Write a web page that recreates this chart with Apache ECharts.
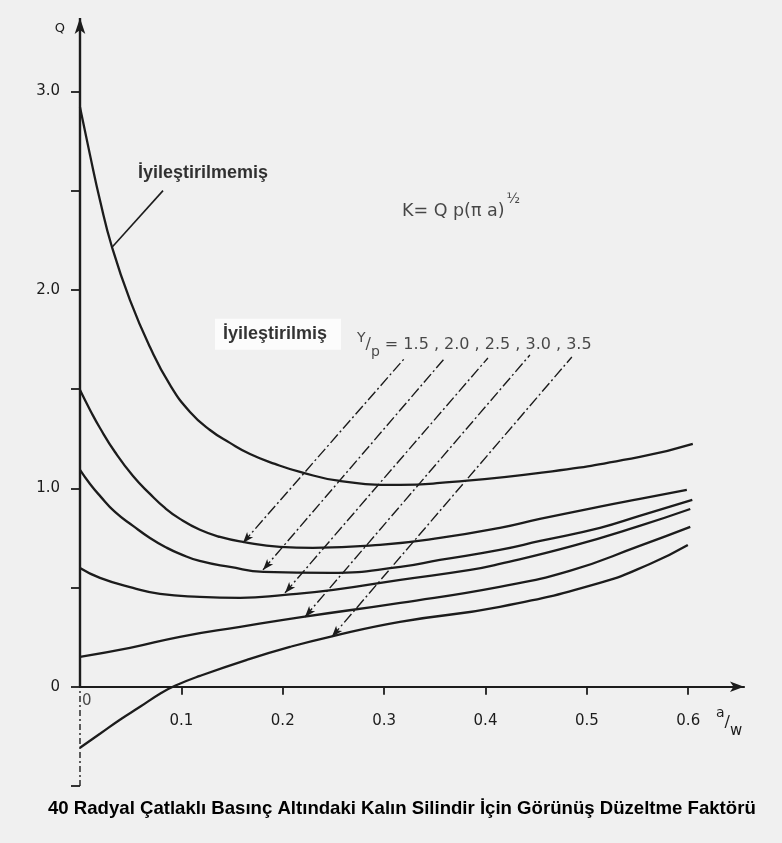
<!DOCTYPE html>
<html>
<head>
<meta charset="utf-8">
<script src="https://cdn.jsdelivr.net/npm/echarts@6/dist/echarts.min.js"></script>
<style>
html,body{margin:0;padding:0;background:#f0f0f0;}
#chart{width:782px;height:843px;}
</style>
</head>
<body>
<div id="chart"></div>
<script>
// ---- data ----
const xTickValues = [0.1, 0.2, 0.3, 0.4, 0.5, 0.6];
const xTickLabels = ['0.1', '0.2', '0.3', '0.4', '0.5', '0.6'];
const yTickValues = [-0.5, 0, 0.5, 1.0, 1.5, 2.0, 2.5, 3.0];
const yLabelValues = [0, 1, 2, 3];
const yLabelTexts = ['0', '1.0', '2.0', '3.0'];

const curveUntreated = [[0,2.920],[0.0099,2.679],[0.0197,2.452],[0.0316,2.215],[0.0493,1.948],[0.0690,1.712],[0.0888,1.521],[0.1085,1.385],[0.1282,1.294],[0.1479,1.229],[0.1677,1.173],[0.1923,1.123],[0.2170,1.083],[0.2564,1.037],[0.3156,1.017],[0.3550,1.027],[0.4536,1.078],[0.5523,1.158],[0.6045,1.224]];
const curveYp15 = [[0,1.495],[0.0099,1.395],[0.0197,1.304],[0.0345,1.183],[0.0523,1.062],[0.0690,0.972],[0.0838,0.901],[0.0986,0.846],[0.1183,0.791],[0.1381,0.755],[0.1607,0.730],[0.1972,0.705],[0.2298,0.700],[0.2959,0.715],[0.3550,0.750],[0.4142,0.801],[0.4536,0.846],[0.5128,0.908],[0.5523,0.947],[0.5986,0.992]];
const curveYp20 = [[0,1.093],[0.0099,1.022],[0.0197,0.962],[0.0345,0.881],[0.0523,0.811],[0.069,0.750],[0.0858,0.700],[0.0986,0.670],[0.118,0.634],[0.148,0.604],[0.181,0.579],[0.247,0.574],[0.316,0.604],[0.355,0.639],[0.414,0.690],[0.454,0.735],[0.513,0.801],[0.552,0.861],[0.604,0.942]];
const curveYp25 = [[0,0.599],[0.0197,0.549],[0.0523,0.498],[0.0789,0.468],[0.118,0.453],[0.158,0.448],[0.202,0.463],[0.250,0.488],[0.316,0.539],[0.385,0.589],[0.414,0.619],[0.486,0.710],[0.552,0.811],[0.602,0.896]];
const curveYp30 = [[0,0.151],[0.0493,0.196],[0.0986,0.252],[0.158,0.302],[0.220,0.352],[0.316,0.423],[0.414,0.504],[0.483,0.584],[0.552,0.710],[0.602,0.806]];
const curveYp35 = [[0,-0.307],[0.0197,-0.237],[0.0394,-0.166],[0.0592,-0.101],[0.0789,-0.035],[0.0937,0.005],[0.1183,0.055],[0.1647,0.136],[0.2071,0.201],[0.2465,0.252],[0.3156,0.327],[0.4142,0.403],[0.5128,0.524],[0.5621,0.619],[0.5996,0.715]];

const ypValues = ['1.5', '2.0', '2.5', '3.0', '3.5'];
// guide lines: [bottom point on curve (arrow), top point near label]
const ypGuideBottom = [[0.1607,0.725],[0.1805,0.589],[0.2022,0.473],[0.2219,0.352],[0.2485,0.252]];
const ypGuideTop = [[0.3205,1.657],[0.360,1.657],[0.4024,1.657],[0.4438,1.672],[0.4852,1.662]];

const leaderLine = [[0.0819,2.50],[0.0316,2.215]];
const yAxisTop = 3.37;
const yAxisBottom = -0.5;
const xAxisEnd = 0.655;

const labelUntreated = 'İyileştirilmemiş';
const labelTreated = 'İyileştirilmiş';
const formulaText = 'K= Q p(π a)';
const formulaExp = '½';
const chartTitle = '40 Radyal Çatlaklı Basınç Altındaki Kalın Silindir İçin Görünüş Düzeltme Faktörü';

// ---- chart ----
const chart = echarts.init(document.getElementById('chart'));
const ink = '#1c1c1c';
const tickFont = 'DejaVu Sans';
const gridTop = 18, gridBottom = 57, chartH = 843;
const gridH = chartH - gridTop - gridBottom;
// place x axis at y = 0
const xAxisOffset = -((0 - yAxisBottom) / (yAxisTop - yAxisBottom)) * gridH;

const curveStyle = {color: ink, width: 2.3};
function curveSeries(name, data) {
  return {
    name: name, type: 'line', data: data, smooth: 0.5,
    symbol: 'none', lineStyle: curveStyle, silent: true, z: 3
  };
}

const series = [
  curveSeries('İyileştirilmemiş', curveUntreated),
  curveSeries('Y/p=1.5', curveYp15),
  curveSeries('Y/p=2.0', curveYp20),
  curveSeries('Y/p=2.5', curveYp25),
  curveSeries('Y/p=3.0', curveYp30),
  curveSeries('Y/p=3.5', curveYp35)
];

ypValues.forEach(function (v, i) {
  series.push({
    name: 'guide ' + v, type: 'line', symbol: 'none', showSymbol: true, silent: true, z: 2,
    lineStyle: {color: ink, width: 1.4, type: [11, 3, 2, 3]},
    data: [
      {value: ypGuideBottom[i], symbol: 'arrow', symbolSize: [6, 11], symbolRotate: 139,
       itemStyle: {color: ink}},
      {value: ypGuideTop[i], symbol: 'none'}
    ]
  });
});

// leader line for the untreated label
series.push({
  name: 'leader', type: 'line', symbol: 'none', silent: true,
  lineStyle: {color: ink, width: 1.6}, data: leaderLine
});

// y axis drawn as two segments: solid above zero, dashed below
series.push({
  name: 'yAxisPos', type: 'line', silent: true, z: 4, showSymbol: true, symbol: 'none',
  lineStyle: {color: ink, width: 2.4},
  data: [[0, 0], {value: [0, yAxisTop], symbol: 'arrow', symbolSize: [8, 16], itemStyle: {color: ink}}]
});
series.push({
  name: 'yAxisNeg', type: 'line', silent: true, symbol: 'none',
  lineStyle: {color: ink, width: 1.4, type: [6, 3, 2, 3]},
  data: [[0, yAxisBottom], [0, 0]]
});

// annotations
series.push({
  name: 'annotations', type: 'scatter', symbolSize: 0, silent: true, clip: false, z: 6,
  data: [
    {value: [0.0572, 2.588], label: {show: true, position: 'right', distance: 0, formatter: labelUntreated,
      fontFamily: 'Liberation Sans', fontWeight: 'bold', fontSize: 18, color: '#000'}},
    {value: [0.1331, 1.777], label: {show: true, position: 'right', distance: 0, formatter: labelTreated,
      fontFamily: 'Liberation Sans', fontWeight: 'bold', fontSize: 18, color: '#000',
      backgroundColor: '#ffffff', padding: [6, 14, 7, 8]}},
    {value: [0.2732, 1.722], label: {show: true, position: 'right', distance: 0,
      formatter: '{y|Y}{s|/}{p|p}{e| = ' + ypValues.join(' , ') + '}',
      rich: {
        y: {fontFamily: tickFont, fontSize: 14, color: ink, verticalAlign: 'top', lineHeight: 28},
        s: {fontFamily: tickFont, fontSize: 16, color: ink, lineHeight: 28},
        p: {fontFamily: tickFont, fontSize: 14, color: ink, verticalAlign: 'bottom', lineHeight: 28},
        e: {fontFamily: tickFont, fontSize: 16, color: ink, lineHeight: 28}
      }}},
    {value: [0.3176, 2.432], label: {show: true, position: 'right', distance: 0,
      formatter: '{m|' + formulaText + '}{s|' + formulaExp + '}',
      rich: {
        m: {fontFamily: tickFont, fontSize: 17.5, color: ink, verticalAlign: 'bottom', lineHeight: 32},
        s: {fontFamily: tickFont, fontSize: 14, color: ink, verticalAlign: 'top', lineHeight: 32, padding: [4, 0, 0, 2]}
      }}},
    {value: [0, 0], label: {show: true, position: 'right', distance: 2, offset: [0, 14], formatter: '0',
      fontFamily: tickFont, fontSize: 15, color: ink}}
  ]
});

chart.setOption({
  animation: false,
  backgroundColor: '#f0f0f0',
  title: {
    text: chartTitle, left: 43, top: 794,
    textStyle: {fontFamily: 'Liberation Sans', fontWeight: 'bold', fontSize: 18.6, color: '#000'}
  },
  grid: {left: 80, right: 38, top: gridTop, bottom: gridBottom, containLabel: false, outerBoundsMode: 'none'},
  xAxis: {
    type: 'value', min: 0, max: xAxisEnd, position: 'bottom', offset: xAxisOffset,
    name: '{a|a}{s|/}{w|w}', nameLocation: 'end', nameGap: -28,
    nameTextStyle: {
      align: 'left', verticalAlign: 'top', padding: [20, 0, 0, 0],
      rich: {
        a: {fontFamily: tickFont, fontSize: 14, color: ink, verticalAlign: 'top', lineHeight: 32},
        s: {fontFamily: tickFont, fontSize: 16, color: ink, lineHeight: 32},
        w: {fontFamily: tickFont, fontSize: 15, color: ink, verticalAlign: 'bottom', lineHeight: 32}
      }
    },
    axisLine: {show: true, onZero: false, symbol: ['none', 'arrow'], symbolSize: [8, 14],
      lineStyle: {color: ink, width: 2.2}},
    axisTick: {show: true, inside: false, length: 8, customValues: xTickValues,
      lineStyle: {color: ink, width: 1.8}},
    axisLabel: {show: true, margin: 27, customValues: xTickValues,
      fontFamily: tickFont, fontSize: 15, color: ink,
      formatter: function (v) {
        const i = xTickValues.findIndex(function (t) { return Math.abs(t - v) < 1e-9; });
        return i >= 0 ? xTickLabels[i] : '';
      }},
    splitLine: {show: false}
  },
  yAxis: {
    type: 'value', min: yAxisBottom, max: yAxisTop,
    name: 'Q', nameLocation: 'end', nameGap: 0,
    nameTextStyle: {fontFamily: tickFont, fontSize: 13, color: ink, align: 'right', verticalAlign: 'top', padding: [4, 15, 0, 0]},
    axisLine: {show: false},
    axisTick: {show: true, inside: false, length: 9, customValues: yTickValues,
      lineStyle: {color: ink, width: 1.8}},
    axisLabel: {show: true, margin: 20, customValues: yLabelValues,
      fontFamily: tickFont, fontSize: 15, color: ink,
      formatter: function (v) {
        const i = yLabelValues.findIndex(function (t) { return Math.abs(t - v) < 1e-9; });
        return i >= 0 ? yLabelTexts[i] : '';
      }},
    splitLine: {show: false}
  },
  series: series
});
</script>
</body>
</html>
